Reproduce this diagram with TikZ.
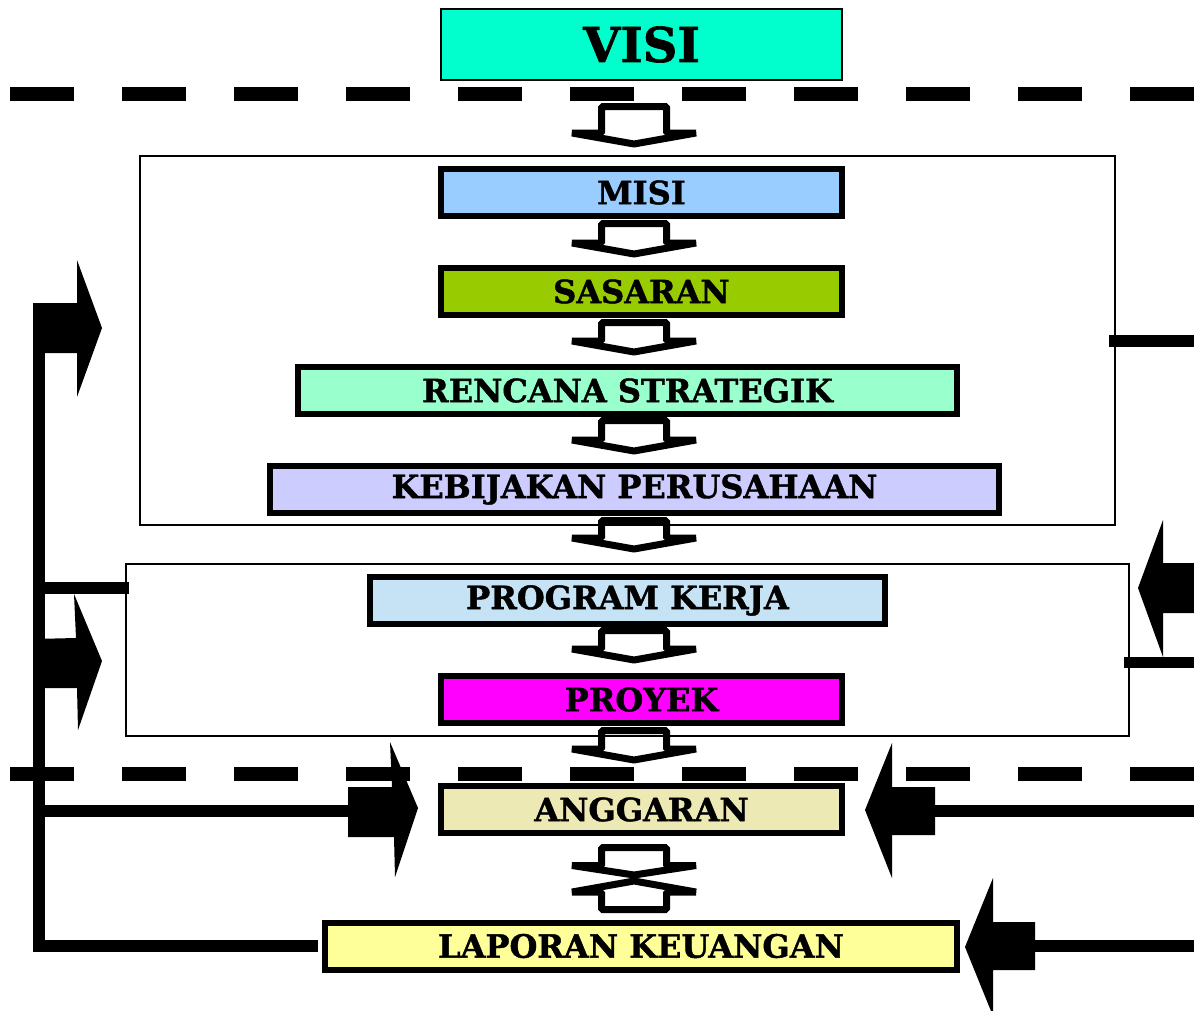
\documentclass[tikz,border=0pt]{standalone}
\usepackage{fontspec}
\setmainfont{DejaVu Serif}[BoldFeatures={FakeBold=1.3}]
\usetikzlibrary{calc}
\definecolor{cVisi}{HTML}{00FFCC}
\definecolor{cMisi}{HTML}{99CCFF}
\definecolor{cSasaran}{HTML}{99CC00}
\definecolor{cRencana}{HTML}{99FFCC}
\definecolor{cKebijakan}{HTML}{CCCCFF}
\definecolor{cProgram}{HTML}{C5E3F5}
\definecolor{cProyek}{HTML}{FF00FF}
\definecolor{cAnggaran}{HTML}{EDE9B4}
\definecolor{cLaporan}{HTML}{FFFF99}
\tikzset{
  lvl/.style={draw=black, line width=6pt, inner sep=0pt, minimum height=47pt,
    font=\bfseries\fontsize{32}{34}\selectfont, text=black},
  grp/.style={draw=black, line width=2pt, inner sep=0pt},
  sepline/.style={line width=14pt, dash pattern=on 64pt off 48pt},
  hollow/.style={draw=black, line width=7pt, line join=bevel},
  link/.style={line width=12pt, line join=miter},
}
\newcommand\hollowarr[3]{%
  \draw[hollow] (601.5,#1) -- (666.5,#1) -- (666.5,#2) -- (696,#2) -- (634,#3)
    -- (572,#2) -- (601.5,#2) -- cycle;}
\begin{document}
\begin{tikzpicture}[x=1pt,y=-1pt]
\useasboundingbox (0,0) rectangle (1194,1010);

% group frames
\node[grp, minimum width=975pt, minimum height=369pt] (upper) at (627.5,340.5) {};
\node[grp, minimum width=1003pt, minimum height=172pt] (lower) at (627.5,650) {};

% separator lines
\draw[sepline] (10,93.5) -- (1194,93.5);
\draw[sepline] (10,774) -- (1194,774);

% boxes
\node[draw=black, line width=2pt, fill=cVisi, minimum width=401pt, minimum height=71pt,
  inner sep=0pt, font=\bfseries\fontsize{48}{50}\selectfont] (visi) at (641.5,44.5) {VISI};
\node[lvl, fill=cMisi, minimum width=401pt] (misi) at (641.5,192.5) {MISI};
\node[lvl, fill=cSasaran, minimum width=401pt] (sasaran) at (641.5,291.5) {SASARAN};
\node[lvl, fill=cRencana, minimum width=659pt] (rencana) at (627.5,390.5) {RENCANA STRATEGIK};
\node[lvl, fill=cKebijakan, minimum width=729pt] (kebijakan) at (634.5,489.5) {KEBIJAKAN PERUSAHAAN};
\node[lvl, fill=cProgram, minimum width=515pt] (program) at (627.5,600.5) {PROGRAM KERJA};
\node[lvl, fill=cProyek, minimum width=401pt] (proyek) at (641.5,699.5) {PROYEK};
\node[lvl, fill=cAnggaran, minimum width=401pt] (anggaran) at (641.5,809.5) {ANGGARAN};
\node[lvl, fill=cLaporan, minimum width=632pt] (laporan) at (641,946) {LAPORAN KEUANGAN};

% hollow down arrows
\hollowarr{106.5}{133}{144}
\hollowarr{223.5}{243}{254}
\hollowarr{322.5}{341}{352}
\hollowarr{420.5}{440}{451}
\hollowarr{520.5}{538}{549}
\hollowarr{630.5}{649}{660}
\hollowarr{730.5}{749}{760}
% double arrow anggaran <-> laporan
\hollowarr{847.5}{865.5}{875}
\hollowarr{909.5}{892}{881}

% left feedback loop
\coordinate (loopTop) at (39,303);
\coordinate (loopCorner) at (39,946);
\draw[link] ([xshift=-4pt]laporan.west) -- (loopCorner) -- (loopTop);
\draw[link] (39,588) -- ([xshift=4pt]lower.west |- 0,588);
\draw[link] (39,811) -- (350,811);
\fill (33,303) -- (77,303) -- (77,260) -- (102,328) -- (77,397) -- (77,353) -- (33,353) -- cycle;
\fill (33,639) -- (76,638) -- (74,594) -- (102,661) -- (78,730) -- (77,688) -- (33,688) -- cycle;
\fill (348,787) -- (392,787) -- (390,742) -- (418,808) -- (395,877) -- (394,837) -- (348,837) -- cycle;

% right side inputs
\draw[link] ([xshift=-7pt]upper.east |- 0,341) -- (1194,341);
\draw[line width=11pt] ([xshift=-6pt]lower.east |- 0,662.5) -- (1194,662.5);
\fill (1194,563) -- (1163,563) -- (1163,520) -- (1138,588) -- (1163,657) -- (1163,613) -- (1194,613) -- cycle;
\draw[link] (935,811) -- (1194,811);
\fill (935,787) -- (892,787) -- (892,743) -- (865,810) -- (892,878) -- (892,835) -- (935,835) -- cycle;
\draw[link] (1035,946) -- (1194,946);
\fill (1035,922) -- (993,922) -- (993,878) -- (965,947) -- (993,1016) -- (993,970) -- (1035,970) -- cycle;
\end{tikzpicture}
\end{document}
